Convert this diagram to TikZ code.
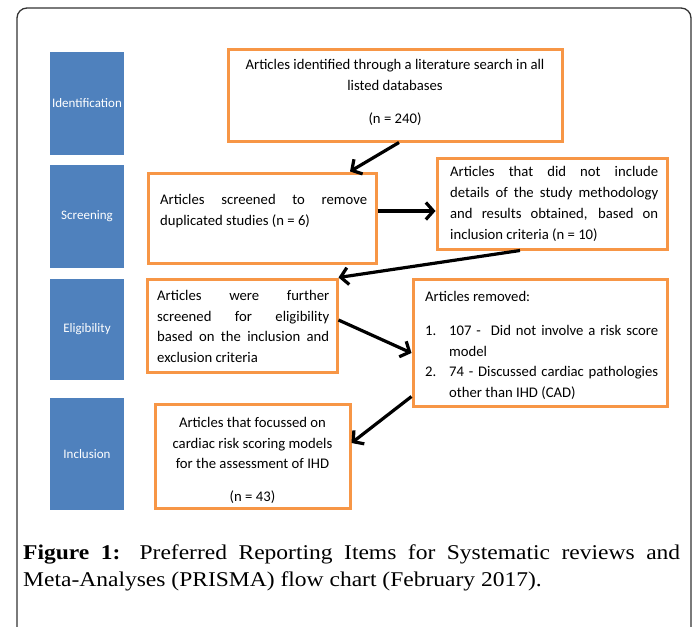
\documentclass[tikz,border=0pt]{standalone}
\usepackage{fontspec}
\setmainfont{Carlito}
\newfontfamily\capfont[FakeStretch=1.12]{Liberation Serif}
\usetikzlibrary{arrows.meta}
\definecolor{phaseblue}{HTML}{4F81BD}
\definecolor{boxorange}{HTML}{F79646}
\definecolor{framegray}{HTML}{333333}
\hyphenpenalty=10000
\begin{document}
\begin{tikzpicture}[x=1pt,y=-1pt,
  phase/.style={fill=phaseblue, draw=none, minimum width=74pt, text=white,
    font=\fontsize{13}{15}\selectfont, inner sep=0pt},
  obox/.style={draw=boxorange, line width=3pt, fill=white, inner sep=0pt},
  btext/.style={inner sep=0pt, font=\fontsize{14.7}{20.5}\selectfont},
  arr/.style={line width=3.2pt, -{Straight Barb[length=7.5pt,width=17pt]}}]
\useasboundingbox (0,0) rectangle (694,627);
\clip (0,0) rectangle (694,627);
\draw[framegray, line width=1.3pt, rounded corners=10pt] (17,8) rectangle (691,690);

% phase labels
\node[phase, minimum height=103pt] (pid) at (87,103.5) {Identification};
\node[phase, minimum height=103pt] (psc) at (87,216.5) {Screening};
\node[phase, minimum height=101pt] (pel) at (87,329.5) {Eligibility};
\node[phase, minimum height=112pt] (pin) at (87,454) {Inclusion};

% boxes
\node[obox, minimum width=334pt, minimum height=92pt] (b1) at (395,95) {};
\node[obox, minimum width=228pt, minimum height=90pt] (b2) at (262,218) {};
\node[obox, minimum width=230pt, minimum height=91pt] (b3) at (552,203.5) {};
\node[obox, minimum width=190pt, minimum height=93pt] (b4) at (242,325.5) {};
\node[obox, minimum width=254pt, minimum height=127pt] (b5) at (540,342.5) {};
\node[obox, minimum width=195pt, minimum height=104pt] (b6) at (252.5,456) {};

% texts
\node[btext, anchor=north, align=center] (t1) at (395,59.5) {Articles identified through a literature search in all\\listed databases\\[13pt](n = 240)};
\node[btext, anchor=north west, text width=207pt, align=justify] (t2) at (160,194.5)
  {Articles screened to remove\linebreak duplicated studies (n = 6)};
\node[btext, anchor=north west, text width=208pt, align=justify,
  font=\fontsize{14.7}{21}\selectfont] (t3) at (450,166.5)
  {Articles that did not include\linebreak details of the study methodology\linebreak and results obtained, based on\linebreak inclusion criteria (n = 10)};
\node[btext, anchor=north west, text width=172pt, align=justify] (t4) at (157,290.5)
  {Articles were further\linebreak screened for eligibility\linebreak based on the inclusion and\linebreak exclusion criteria};
\node[btext, anchor=north west, text width=233pt, align=justify] (t5) at (425,291.5)
  {Articles removed:\par\vspace{13.5pt}
   \hangindent=24pt\hangafter=1\noindent\makebox[24pt][l]{1.}107 -\ \ Did not involve a risk score\linebreak model\par
   \hangindent=24pt\hangafter=1\noindent\makebox[24pt][l]{2.}74 - Discussed cardiac pathologies\linebreak other than IHD (CAD)\par};
\node[btext, anchor=north, align=center] (t6) at (252.5,417.5)
  {Articles that focussed on\\cardiac risk scoring models\\for the assessment of IHD\\[12pt](n = 43)};

% arrows
\draw[arr] ([xshift=4pt]b1.south) -- ([xshift=88pt]b2.north);
\draw[arr] ([yshift=7pt]b2.east) -- ([yshift=-7.5pt]b3.west);
\draw[arr] ([xshift=-32pt]b3.south) -- (b4.north east);
\draw[arr] ([yshift=5.5pt]b4.east) -- ([yshift=-10.5pt]b5.west);
\draw[arr] ([yshift=11pt]b5.south west) -- ([yshift=13pt]b6.east);

% caption
\node[anchor=north west, inner sep=0pt, text width=657pt, align=justify,
  font=\capfont\fontsize{21}{27}\selectfont] (cap) at (23,545)
  {\textbf{Figure 1:} Preferred Reporting Items for Systematic reviews and\linebreak Meta-Analyses (PRISMA) flow chart (February 2017).};
\end{tikzpicture}
\end{document}
